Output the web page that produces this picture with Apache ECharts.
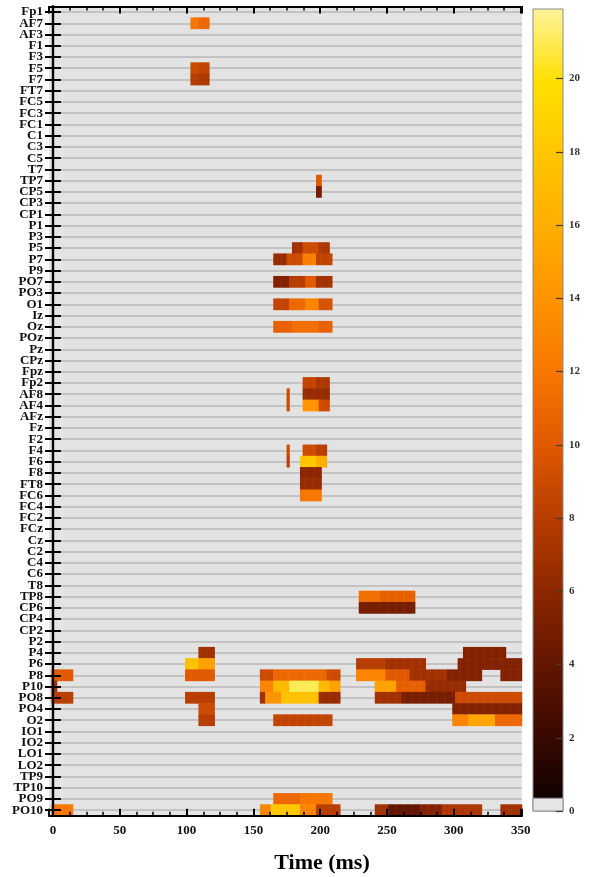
<!DOCTYPE html>
<html>
<head>
<meta charset="utf-8">
<script src="https://cdn.jsdelivr.net/npm/echarts@6/dist/echarts.min.js"></script>
<style>
  html, body { margin: 0; padding: 0; background: #ffffff; }
  #chart { width: 597px; height: 877px; }
</style>
</head>
<body>
<div id="chart"></div>
<script>
// Electrode montage, top to bottom
const channels = [
  'Fp1','AF7','AF3','F1','F3','F5','F7','FT7','FC5','FC3','FC1','C1','C3','C5','T7','TP7',
  'CP5','CP3','CP1','P1','P3','P5','P7','P9','PO7','PO3','O1','Iz','Oz','POz','Pz','CPz',
  'Fpz','Fp2','AF8','AF4','AFz','Fz','F2','F4','F6','F8','FT8','FC6','FC4','FC2','FCz','Cz',
  'C2','C4','C6','T8','TP8','CP6','CP4','CP2','P2','P4','P6','P8','P10','PO8','PO4','O2',
  'IO1','IO2','LO1','LO2','TP9','TP10','PO9','PO10'
];

// Time bins (ms): centres of 2 ms samples
const timeBins = [];
for (let t = -2; t <= 350; t += 2) timeBins.push(t);

// Colour-bar tick values
const colorTicks = [0, 2, 4, 6, 8, 10, 12, 14, 16, 18, 20];
const colorMax = 21.9;

// Significant clusters: [channel, start ms, end ms, statistic]
const leftFrontal = [
  ['AF7', 103, 109, 12], ['AF7', 109, 117, 11],
  ['F5', 103, 109, 9], ['F5', 109, 117, 8.5],
  ['F7', 103, 109, 8], ['F7', 109, 117, 7.5],
  ['TP7', 197, 201, 10], ['CP5', 197, 201, 5]
];

const leftPosterior = [
  ['P5', 179, 187, 7], ['P5', 187, 199, 9], ['P5', 199, 207, 7.5],
  ['P7', 165, 175, 6.5], ['P7', 175, 187, 9], ['P7', 187, 197, 12.5], ['P7', 197, 209, 8.5],
  ['PO7', 165, 177, 5.5], ['PO7', 177, 189, 8], ['PO7', 189, 197, 10], ['PO7', 197, 209, 7],
  ['O1', 165, 177, 8.5], ['O1', 177, 189, 11], ['O1', 189, 199, 13], ['O1', 199, 209, 9.5],
  ['Oz', 165, 179, 10.5], ['Oz', 179, 199, 11.5], ['Oz', 199, 209, 10.5]
];

const rightFrontal = [
  ['Fp2', 187, 197, 8.5], ['Fp2', 197, 207, 7.5],
  ['AF8', 175, 177, 9], ['AF8', 187, 207, 6.5],
  ['AF4', 175, 177, 9], ['AF4', 187, 199, 14], ['AF4', 199, 207, 9],
  ['F4', 175, 177, 9], ['F4', 187, 197, 9], ['F4', 197, 205, 8],
  ['F6', 175, 177, 8], ['F6', 185, 197, 18], ['F6', 197, 205, 16],
  ['F8', 185, 201, 6],
  ['FT8', 185, 201, 6.5],
  ['FC6', 185, 201, 12]
];

const rightPosterior = [
  ['TP8', 229, 245, 11.5], ['TP8', 245, 271, 10.5],
  ['CP6', 229, 271, 5],
  ['P4', 109, 121, 7], ['P4', 307, 339, 5.5],
  ['P6', 99, 109, 17.5], ['P6', 109, 121, 15], ['P6', 227, 249, 8], ['P6', 249, 279, 7], ['P6', 303, 351, 5.5],
  ['P8', -1, 15, 10], ['P8', 99, 121, 10], ['P8', 155, 165, 9], ['P8', 165, 205, 11], ['P8', 205, 215, 9],
  ['P8', 227, 249, 13], ['P8', 249, 267, 10], ['P8', 267, 295, 7], ['P8', 295, 321, 5.5], ['P8', 335, 351, 5.5],
  ['P10', -1, 3, 7], ['P10', 155, 165, 13], ['P10', 165, 177, 17], ['P10', 177, 199, 21], ['P10', 199, 207, 17],
  ['P10', 207, 215, 15], ['P10', 241, 257, 15], ['P10', 257, 279, 10.5], ['P10', 279, 309, 6.5],
  ['PO8', -1, 15, 8], ['PO8', 99, 121, 8], ['PO8', 155, 159, 7], ['PO8', 159, 171, 14], ['PO8', 171, 199, 17.5],
  ['PO8', 199, 215, 6.5], ['PO8', 241, 261, 7], ['PO8', 261, 301, 5], ['PO8', 301, 351, 9],
  ['PO4', 109, 121, 9], ['PO4', 299, 351, 5.5],
  ['O2', 109, 121, 8], ['O2', 165, 209, 8.5], ['O2', 299, 311, 13], ['O2', 311, 331, 15.5], ['O2', 331, 351, 11],
  ['PO9', 165, 185, 11], ['PO9', 185, 209, 12],
  ['PO10', -1, 15, 12], ['PO10', 155, 163, 13], ['PO10', 163, 185, 18], ['PO10', 185, 197, 13], ['PO10', 197, 215, 8],
  ['PO10', 241, 251, 7], ['PO10', 251, 275, 4], ['PO10', 275, 291, 5.5], ['PO10', 291, 321, 7.5], ['PO10', 335, 351, 7]
];

// Hot colour scale, 0 -> max
const hotColors = ['#0a0000', '#380800', '#621600', '#8c2600', '#b63c00', '#e05800',
                   '#f87600', '#ff9300', '#ffad00', '#ffc600', '#ffdf00', '#fff49c'];

// Expand each cluster to the 2 ms bins whose centres it covers
function toCells(lists) {
  const cells = [];
  lists.forEach(list => list.forEach(([ch, s, e, v]) => {
    const yi = channels.indexOf(ch);
    timeBins.forEach((t, xi) => { if (t > s && t < e) cells.push([xi, yi, v]); });
  }));
  return cells;
}
const cells = toCells([leftFrontal, leftPosterior, rightFrontal, rightPosterior]);

// Layout
const PLOT = { left: 49, top: 6.4, width: 473, height: 809.4 };
const BAR = { left: 533, top: 9, width: 30, height: 802 };
const TICK_LEN = 7;
const zeroSwatch = BAR.height * 0.35 / colorMax;

const serif = "'Liberation Serif', 'Times New Roman', serif";
const frameLine = { show: true, lineStyle: { color: '#000', width: 2.2 } };

// Gradient of the colour bar, bottom (0) to top (max)
const barGradient = {
  type: 'linear', x: 0, y: 1, x2: 0, y2: 0,
  colorStops: hotColors.map((c, i) => ({ offset: i / (hotColors.length - 1), color: c }))
};

const chart = echarts.init(document.getElementById('chart'), null, { renderer: 'canvas' });

chart.setOption({
  animation: false,
  backgroundColor: '#ffffff',
  grid: [
    { left: PLOT.left, top: PLOT.top, width: PLOT.width, height: PLOT.height,
      show: true, backgroundColor: '#e3e3e3', borderWidth: 0 },
    // strip along the right edge of the colour bar carrying its scale
    { left: BAR.left + BAR.width - TICK_LEN, top: BAR.top, width: TICK_LEN, height: BAR.height, show: false }
  ],
  xAxis: [
    { type: 'category', gridIndex: 0, data: timeBins.map(String), show: false },
    { type: 'value', gridIndex: 0, min: -3, max: 351, splitNumber: 7, position: 'bottom', z: 5,
      axisLine: frameLine,
      axisTick: { show: true, inside: true, length: 7, lineStyle: { color: '#000', width: 2 } },
      minorTick: { show: true, splitNumber: 4, length: 4, lineStyle: { color: '#000', width: 1.5 } },
      splitLine: { show: false },
      axisLabel: { show: true, margin: 8, showMinLabel: false, showMaxLabel: false,
                   fontFamily: serif, fontWeight: 'bold', fontSize: 13, color: '#111' } },
    { type: 'value', gridIndex: 0, min: -3, max: 351, splitNumber: 7, position: 'top', z: 5,
      axisLine: frameLine,
      axisTick: { show: true, inside: true, length: 7, lineStyle: { color: '#000', width: 2 } },
      minorTick: { show: true, splitNumber: 4, length: 4, lineStyle: { color: '#000', width: 1.5 } },
      splitLine: { show: false },
      axisLabel: { show: false } },
    { type: 'value', gridIndex: 1, show: false, min: 0, max: 1 }
  ],
  yAxis: [
    { type: 'category', gridIndex: 0, data: channels, inverse: true, position: 'left', z: 5,
      axisLine: frameLine,
      axisTick: { show: true, inside: true, alignWithLabel: true, interval: 0, length: 8,
                  lineStyle: { color: '#000', width: 2 } },
      splitLine: { show: false },
      axisLabel: { show: true, interval: 0, margin: 6, fontFamily: serif, fontWeight: 'bold',
                   fontSize: 13, color: '#111' } },
    { type: 'category', gridIndex: 0, data: channels, inverse: true, position: 'right', z: 5,
      axisLine: frameLine,
      axisTick: { show: true, inside: true, alignWithLabel: true, interval: 0, length: 8,
                  lineStyle: { color: '#000', width: 2 } },
      splitLine: { show: false },
      axisLabel: { show: false } },
    // row guide lines through each electrode
    { type: 'value', gridIndex: 0, min: -0.5, max: channels.length - 0.5, splitNumber: channels.length,
      inverse: true, position: 'left', z: 0,
      axisLine: { show: false }, axisTick: { show: false }, axisLabel: { show: false },
      splitLine: { show: true, lineStyle: { color: '#c3c3c3', width: 2 } } },
    // colour-bar tick marks (inside the bar)
    { type: 'value', gridIndex: 1, min: 0, max: colorMax, interval: 2, position: 'left', z: 50,
      axisLine: { show: false },
      axisTick: { show: true, inside: true, length: TICK_LEN, customValues: colorTicks,
                  lineStyle: { color: '#4a3a2a', width: 1.2 } },
      splitLine: { show: false },
      axisLabel: { show: false } },
    // colour-bar labels
    { type: 'value', gridIndex: 1, min: 0, max: colorMax, interval: 2, position: 'right', z: 50,
      axisLine: { show: false },
      axisTick: { show: false },
      splitLine: { show: false },
      axisLabel: { show: true, margin: 6, customValues: colorTicks,
                   fontFamily: serif, fontWeight: 'bold', fontSize: 11, color: '#333' } }
  ],
  visualMap: {
    type: 'continuous',
    show: false,
    seriesIndex: 0,
    min: 0,
    max: colorMax,
    inRange: { color: hotColors }
  },
  graphic: [
    { type: 'rect', z: 1, silent: true,
      shape: { x: BAR.left, y: BAR.top, width: BAR.width, height: BAR.height },
      style: { fill: barGradient, stroke: '#8a8a8a', lineWidth: 1 } },
    { type: 'rect', z: 2, silent: true,
      shape: { x: BAR.left, y: BAR.top + BAR.height - zeroSwatch, width: BAR.width, height: zeroSwatch },
      style: { fill: '#e6e6e6', stroke: '#8a8a8a', lineWidth: 1 } },
    { type: 'text', z: 100, silent: true, x: 322, y: 863,
      style: { text: 'Time (ms)', fill: '#000', font: "bold 22px 'Liberation Serif', 'Times New Roman', serif",
               textAlign: 'center', textVerticalAlign: 'middle' } }
  ],
  series: [{
    type: 'heatmap',
    xAxisIndex: 0,
    yAxisIndex: 0,
    data: cells,
    progressive: 0,
    itemStyle: { borderWidth: 0 },
    emphasis: { disabled: true }
  }]
});
</script>
</body>
</html>
